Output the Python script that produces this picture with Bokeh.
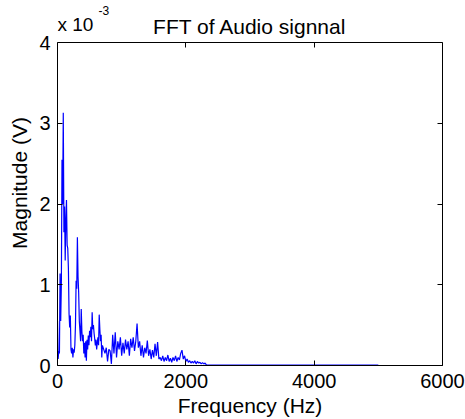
from bokeh.plotting import figure
from bokeh.models import LinearAxis, FixedTicker, Range1d, Label, CustomJSTickFormatter
from bokeh.embed import file_html
from bokeh.resources import INLINE

# Frequency bins (Hz)
freq = [
    0, 10, 20, 30, 40, 50, 60, 70, 80, 90,
    100, 110, 120, 130, 140, 150, 160, 170, 180, 190,
    200, 210, 220, 230, 240, 250, 260, 270, 280, 290,
    300, 310, 320, 330, 340, 350, 360, 370, 380, 390,
    400, 410, 420, 430, 440, 450, 460, 470, 480, 490,
    500, 510, 520, 530, 540, 550, 560, 570, 580, 590,
    600, 610, 620, 630, 640, 650, 660, 670, 680, 690,
    700, 720, 740, 760, 780, 800, 820, 840, 860, 880,
    900, 920, 940, 960, 980, 1000, 1020, 1040, 1060, 1080,
    1100, 1120, 1140, 1160, 1180, 1200, 1220, 1240, 1260, 1280,
    1300, 1320, 1340, 1360, 1380, 1400, 1420, 1440, 1460, 1480,
    1500, 1520, 1540, 1560, 1580, 1600, 1620, 1640, 1660, 1680,
    1700, 1720, 1740, 1760, 1780, 1800, 1820, 1840, 1860, 1880,
    1900, 1920, 1940, 1960, 1980, 2000, 2020, 2040, 2060, 2080,
    2100, 2120, 2140, 2160, 2180, 2200, 2220, 2240, 2260, 2280,
    2300, 2320, 2340, 5000,
]

# Magnitude in units of 1e-3 V
magnitude = [
    0.55, 0.08, 0.18, 0.15, 1.14, 0.55, 1.00, 2.55, 2.00, 3.13,
    1.65, 1.97, 1.30, 1.80, 2.05, 1.49, 1.45, 1.20, 0.64, 0.47,
    0.62, 0.20, 0.15, 0.22, 0.10, 0.20, 0.16, 0.25, 0.50, 1.05,
    0.95, 1.59, 1.10, 0.90, 0.55, 0.43, 0.30, 0.70, 0.42, 0.30,
    0.38, 0.15, 0.28, 0.10, 0.30, 0.06, 0.32, 0.20, 0.37, 0.25,
    0.43, 0.35, 0.48, 0.30, 0.66, 0.45, 0.50, 0.40, 0.33, 0.25,
    0.32, 0.20, 0.28, 0.35, 0.25, 0.63, 0.45, 0.30, 0.38, 0.10,
    0.25, 0.20, 0.15, 0.22, 0.05, 0.20, 0.18, 0.02, 0.38, 0.15,
    0.41, 0.10, 0.30, 0.20, 0.35, 0.12, 0.28, 0.15, 0.32, 0.20,
    0.30, 0.12, 0.33, 0.22, 0.35, 0.18, 0.30, 0.52, 0.22, 0.30,
    0.12, 0.25, 0.10, 0.22, 0.15, 0.31, 0.12, 0.20, 0.08, 0.19,
    0.10, 0.27, 0.12, 0.29, 0.08, 0.10, 0.06, 0.12, 0.05, 0.10,
    0.06, 0.13, 0.05, 0.09, 0.04, 0.10, 0.06, 0.12, 0.05, 0.10,
    0.07, 0.15, 0.19, 0.08, 0.12, 0.05, 0.08, 0.04, 0.06, 0.03,
    0.05, 0.03, 0.06, 0.02, 0.05, 0.03, 0.04, 0.02, 0.035, 0.02,
    0.03, 0.008, 0.006, 0.005,
]

x_ticks = [0, 2000, 4000, 6000]
y_ticks = [0, 1, 2, 3, 4]
x_limits = (0, 6000)
y_limits = (0, 4)
title_text = "FFT of Audio signnal"
x_label = "Frequency (Hz)"
y_label = "Magnitude (V)"
exp_text = "x 10"
exp_power = "-3"

FONT = "Liberation Sans"

# Layout: the plotting frame extends above the axes box so that the
# title and the exponent note (drawn as labels) are not clipped.
FRAME_TOP = 1      # expected top of the frame on the canvas (px)
BOX_TOP = 43       # top of the axes box on the canvas (px)
BOX_BOTTOM = 365   # bottom of the axes box on the canvas (px)
y_view_top = y_limits[1] * (BOX_BOTTOM - FRAME_TOP) / (BOX_BOTTOM - BOX_TOP)

p = figure(
    width=465, height=419,
    x_range=Range1d(*x_limits), y_range=Range1d(y_limits[0], y_view_top),
    output_backend="svg", toolbar_location=None,
    min_border_left=57, min_border_right=23,
    min_border_top=0, min_border_bottom=419 - BOX_BOTTOM,
    x_axis_label=x_label, y_axis_label=y_label,
)
p.title_location = None

p.line(freq, magnitude, line_color="#0000ff", line_width=1.2)

p.xgrid.visible = False
p.ygrid.visible = False
p.outline_line_color = None
p.background_fill_color = "white"
p.border_fill_color = "white"

def style_axis(ax, ticks):
    ax.ticker = FixedTicker(ticks=ticks)
    ax.major_tick_in = 5
    ax.major_tick_out = 0
    ax.minor_tick_line_color = None
    ax.axis_line_color = "black"
    ax.major_tick_line_color = "black"
    ax.major_label_text_font = FONT
    ax.major_label_text_font_size = "20px"
    ax.major_label_text_color = "black"
    ax.axis_label_text_font = FONT
    ax.axis_label_text_font_size = "21px"
    ax.axis_label_text_font_style = "normal"
    ax.axis_label_text_color = "black"

style_axis(p.xaxis[0], x_ticks)
style_axis(p.yaxis[0], y_ticks)
p.yaxis[0].bounds = y_limits
p.xaxis[0].bounds = x_limits
p.xaxis[0].major_label_standoff = 8
p.xaxis[0].axis_label_standoff = 3
p.yaxis[0].major_label_standoff = 7
p.yaxis[0].axis_label_standoff = 5

blank = CustomJSTickFormatter(code="return ''")
top_axis = LinearAxis(formatter=blank, fixed_location=y_limits[1], bounds=x_limits)
right_axis = LinearAxis(formatter=blank, bounds=y_limits)
for ax, t in ((top_axis, x_ticks), (right_axis, y_ticks)):
    style_axis(ax, t)
    ax.major_label_text_font_size = "1px"
    ax.major_label_standoff = 0
p.add_layout(top_axis, "above")
p.add_layout(right_axis, "right")

title_label = Label(x=sum(x_limits) / 2, y=y_limits[1], text=title_text,
                    y_offset=16, text_font=FONT, text_font_size="21px",
                    text_color="black", text_align="center",
                    text_baseline="alphabetic")
exp_base = Label(x=x_limits[0], y=y_limits[1], text=exp_text, y_offset=18,
                 text_font=FONT, text_font_size="19px", text_color="black",
                 text_baseline="alphabetic", text_align="left")
exp_pow = Label(x=x_limits[0], y=y_limits[1], text=exp_power, x_offset=41,
                y_offset=32, text_font=FONT, text_font_size="12px",
                text_color="black", text_baseline="alphabetic",
                text_align="left")
p.add_layout(title_label)
p.add_layout(exp_base)
p.add_layout(exp_pow)

open("out.html", "w").write(file_html(p, INLINE))
